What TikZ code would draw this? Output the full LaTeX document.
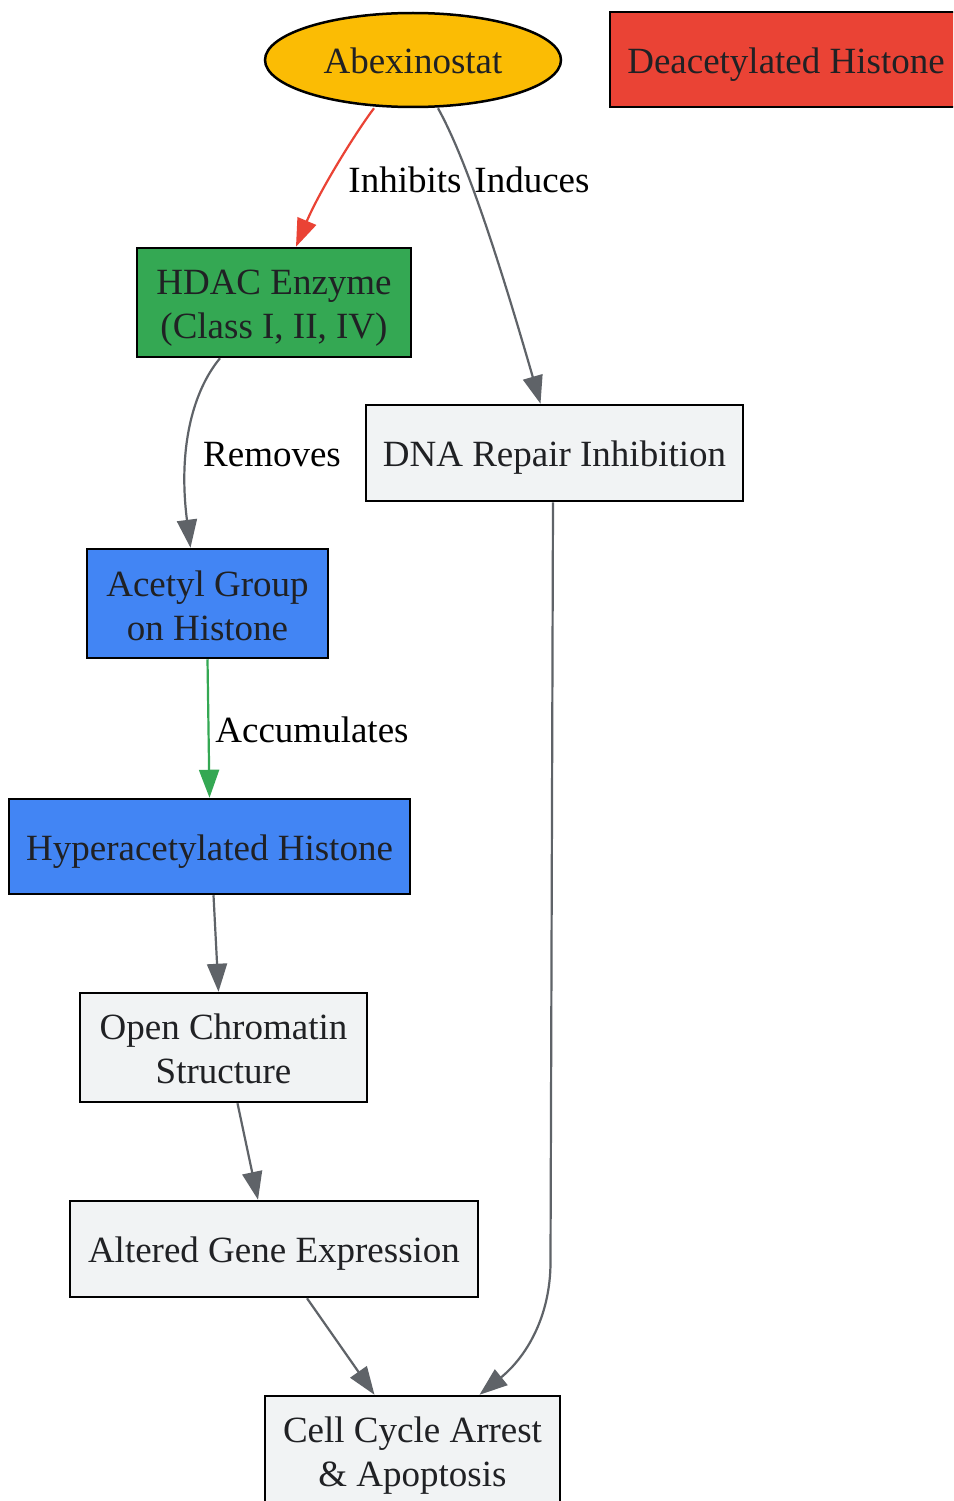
\documentclass[tikz,border=0pt]{standalone}
\usepackage{fontspec}
\setmainfont{Liberation Serif}
\usetikzlibrary{shapes.geometric,arrows.meta}
\definecolor{gyellow}{HTML}{FBBC04}
\definecolor{gred}{HTML}{EA4335}
\definecolor{ggreen}{HTML}{34A853}
\definecolor{gblue}{HTML}{4285F4}
\definecolor{glight}{HTML}{F1F3F4}
\definecolor{ggray}{HTML}{5F6368}
\definecolor{gtext}{HTML}{202124}
\tikzset{
  base/.style={draw=black, line width=2.5pt, text=gtext, align=center, inner sep=0pt,
    font=\fontsize{37}{44}\selectfont},
  box/.style={base, rectangle},
  oval/.style={base, ellipse},
  txt/.style={text=gtext, align=center, inner sep=0pt, font=\fontsize{37}{44}\selectfont},
  edge/.style={line width=2.2pt, -{Triangle[length=28pt,width=20pt]}},
  elabel/.style={text=black, font=\fontsize{37}{44}\selectfont, inner sep=0pt},
}
\begin{document}
\begin{tikzpicture}[x=1pt,y=1pt]
\useasboundingbox (0,0) rectangle (953,-1501);
\clip (0,0) rectangle (953,-1501);
\fill[white] (0,0) rectangle (953,-1501);

\node[oval, fill=gyellow, minimum width=296, minimum height=94] (abex) at (413,-60) {};
\node[txt] (abext) at ([yshift=-1]abex.center) {Abexinostat};

\node[box, fill=gred, minimum width=352, minimum height=95] (deac) at (786,-59.5) {};
\node[txt] (deact) at ([xshift=0,yshift=-5]deac.center) {Deacetylated Histone};

\node[box, fill=ggreen, minimum width=274, minimum height=109] (hdac) at (274,-302.5) {};
\node[txt] (hdact) at ([yshift=-6]hdac.center) {HDAC Enzyme\\(Class I, II, IV)};

\node[box, fill=glight, minimum width=377, minimum height=96] (dna) at (554.5,-453) {};
\node[txt] (dnat) at ([yshift=-5]dna.center) {DNA Repair Inhibition};

\node[box, fill=gblue, minimum width=241, minimum height=109] (acetyl) at (207.5,-603.5) {};
\node[txt] (acetylt) at ([yshift=-2]acetyl.center) {Acetyl Group\\on Histone};

\node[box, fill=gblue, minimum width=401, minimum height=95] (hyper) at (209.5,-846.5) {};
\node[txt] (hypert) at ([yshift=-5]hyper.center) {Hyperacetylated Histone};

\node[box, fill=glight, minimum width=287, minimum height=109] (open) at (223.5,-1047.5) {};
\node[txt] (opent) at ([yshift=-1.5]open.center) {Open Chromatin\\Structure};

\node[box, fill=glight, minimum width=408, minimum height=96] (altered) at (274,-1249) {};
\node[txt] (alteredt) at ([yshift=-5]altered.center) {Altered Gene Expression};

\node[box, fill=glight, minimum width=295, minimum height=109] (cell) at (412.5,-1450.5) {};
\node[txt] (cellt) at ([yshift=-5]cell.center) {Cell Cycle Arrest\\\& Apoptosis};

% edges
\draw[edge, gred] ([xshift=-39]abex.south) .. controls (356,-132) and (320,-190) .. ([xshift=22]hdac.north);
\node[elabel] (linh) at (405,-180) {Inhibits};

\draw[edge, ggray] ([xshift=25]abex.south) .. controls (460,-148) and (488,-222) .. ([xshift=-14]dna.north);
\node[elabel] (lind) at (532,-180) {Induces};

\draw[edge, ggray] ([xshift=-54]hdac.south) .. controls (192,-392) and (178,-450) .. ([xshift=-17]acetyl.north);
\node[elabel] (lrem) at (272,-455) {Removes};

\draw[edge, ggreen] (acetyl.south) -- (hyper.north);
\node[elabel] (lacc) at (312,-730) {Accumulates};

\draw[edge, ggray] ([xshift=4]hyper.south) -- ([xshift=-5]open.north);
\draw[edge, ggray] ([xshift=14]open.south) -- ([xshift=-16]altered.north);
\draw[edge, ggray] ([xshift=33]altered.south) -- ([xshift=-38]cell.north);

\coordinate (bend) at (550.5,-1262);
\draw[edge, ggray] ([xshift=-1.5]dna.south) -- (bend) .. controls (550.5,-1318) and (525,-1358) .. ([xshift=67]cell.north);
\end{tikzpicture}
\end{document}
